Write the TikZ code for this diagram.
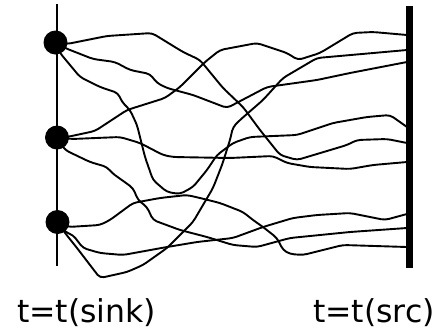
\documentclass[tikz,border=0pt]{standalone}
\usepackage{fontspec}
\setmainfont{DejaVu Sans}
\begin{document}
\begin{tikzpicture}[x=1pt,y=-1pt,
  walk/.style={line width=1.9pt, line join=round, rounded corners=4pt},
  sinkdot/.style={circle, fill, inner sep=0pt, minimum size=24pt},
  timelabel/.style={anchor=base west, inner sep=0pt, font=\fontsize{31.5}{36}\selectfont}]
\useasboundingbox (0,0) rectangle (439,330);
% time lines
\draw[line width=2.2pt] (57,4) -- (57,266);
\fill (406,6) rectangle (413,268);
% sink nodes
\node[sinkdot] (sinkA) at (55.5,42.5) {};
\node[sinkdot] (sinkB) at (57,137.5) {};
\node[sinkdot] (sinkC) at (57.5,222) {};
% walks from the top sink
\draw[walk] (sinkA.center) -- (67,44) -- (107,36) -- (152,33) -- (183,52) -- (200,60) -- (223,88) -- (243,107) -- (260,130) -- (280,155) -- (297,160) -- (347,145) -- (357,140) -- (387,139) -- (407,143);
\draw[walk] (sinkA.center) -- (65,48) -- (93,59) -- (115,62) -- (130,70) -- (150,74) -- (157,83) -- (167,88) -- (193,95) -- (227,108) -- (267,87) -- (317,80) -- (350,73) -- (407,62);
\draw[walk] (sinkA.center) -- (60,53) -- (80,77) -- (100,87) -- (118,93) -- (122,102) -- (130,110) -- (137,125) -- (145,157) -- (153,180) -- (167,192) -- (180,194) -- (193,187) -- (207,170) -- (217,155) -- (233,143) -- (250,137) -- (297,135) -- (333,123) -- (367,117) -- (390,115) -- (407,127);
% walks from the middle sink
\draw[walk] (sinkB.center) -- (67,137) -- (95,131) -- (127,110) -- (165,98) -- (180,87) -- (205,62) -- (220,50) -- (257,43) -- (287,53) -- (298,60) -- (320,53) -- (353,33) -- (373,32) -- (407,35);
\draw[walk] (sinkB.center) -- (72,139) -- (120,137) -- (140,143) -- (163,155) -- (173,157) -- (230,158) -- (273,156) -- (287,163) -- (310,167) -- (350,169) -- (373,165) -- (407,162);
\draw[walk] (sinkB.center) -- (65,150) -- (90,162) -- (107,167) -- (112,173) -- (133,188) -- (138,200) -- (147,207) -- (153,220) -- (180,230) -- (207,237) -- (233,245) -- (257,247) -- (290,238) -- (350,232) -- (407,228);
% walks from the bottom sink
\draw[walk] (sinkC.center) -- (68,227) -- (100,225) -- (110,220) -- (133,203) -- (160,198) -- (187,195) -- (200,198) -- (220,203) -- (243,212) -- (253,220) -- (263,227) -- (277,238) -- (283,250) -- (290,254) -- (303,255) -- (343,245) -- (407,247);
\draw[walk] (sinkC.center) -- (65,232) -- (73,235) -- (83,248) -- (100,253) -- (123,255) -- (167,247) -- (197,242) -- (233,238) -- (263,227) -- (293,218) -- (317,215) -- (350,213) -- (385,220) -- (407,214);
\draw[walk] (sinkC.center) -- (65,233) -- (77,248) -- (90,265) -- (100,278) -- (127,272) -- (143,265) -- (167,248) -- (193,222) -- (213,188) -- (222,165) -- (230,140) -- (233,127) -- (240,120) -- (263,100) -- (283,78) -- (317,58) -- (407,50);
% labels
\node[timelabel] (sinklabel) at (17,322) {t=t(sink)};
\node[timelabel] (srclabel) at (313,322) {t=t(src)};
\end{tikzpicture}
\end{document}
